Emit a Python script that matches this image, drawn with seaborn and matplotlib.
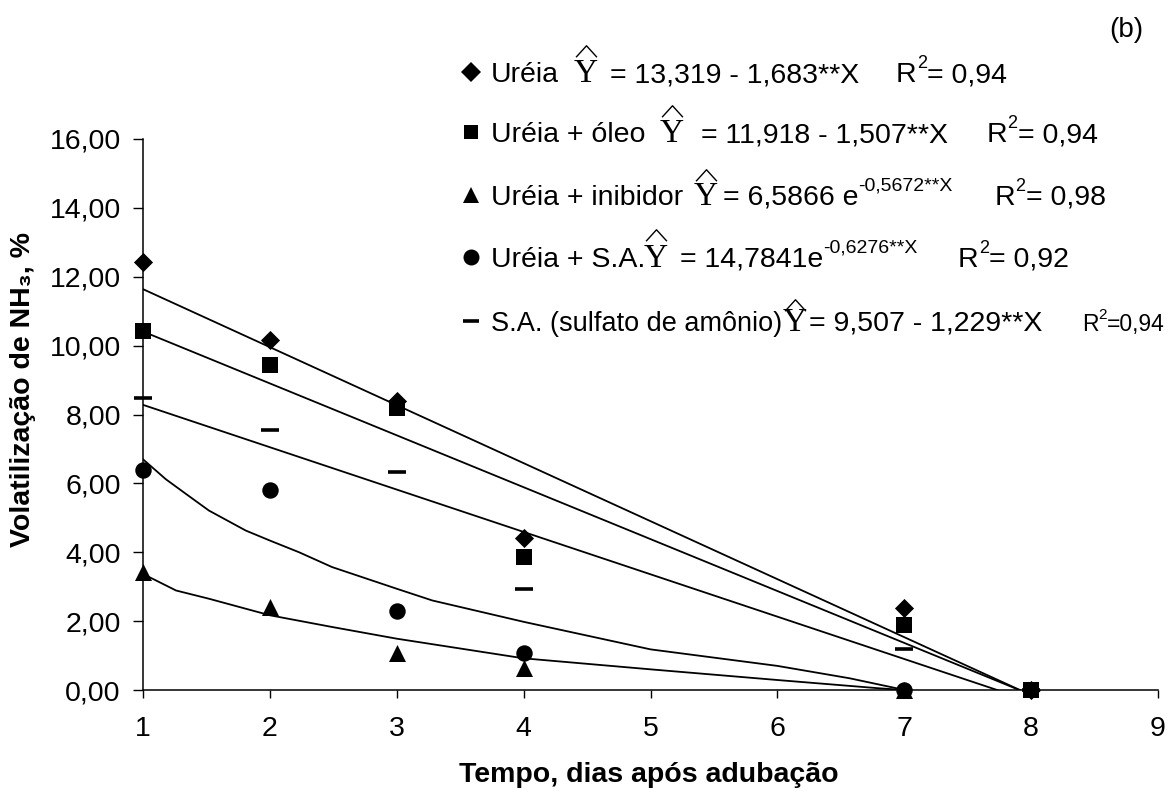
"""Volatilização de NH3 ao longo do tempo, por tipo de adubação (b)."""

import matplotlib.pyplot as plt
import seaborn as sns
from matplotlib.lines import Line2D
from matplotlib.path import Path
from matplotlib.ticker import FuncFormatter

# observed values (dias após adubação)
dias = [1, 2, 3, 4, 7, 8]
ureia = [12.42, 10.16, 8.39, 4.41, 2.37, 0.0]
ureia_oleo = [10.43, 9.43, 8.20, 3.86, 1.88, 0.0]
sulfato = [8.47, 7.54, 6.34, 2.92, 1.19, 0.0]
dias_b = [1, 2, 3, 4, 7]
ureia_inib = [3.42, 2.41, 1.06, 0.65, 0.0]
ureia_sa = [6.38, 5.81, 2.29, 1.08, 0.0]

# fitted lines as they appear on the chart
reta_x = [1, 8]
reta_ureia = [11.64, -0.15]
reta_oleo = [10.41, -0.14]
reta_sa = [8.28, -0.33]
curva_sa_x = [1, 1.18, 1.34, 1.52, 1.81, 2, 2.23, 2.49, 3, 3.28, 4, 5, 6, 6.57, 6.94, 7]
curva_sa_y = [6.70, 6.12, 5.69, 5.21, 4.63, 4.34, 4.00, 3.57, 2.94, 2.60, 1.98, 1.18, 0.70, 0.34, 0.05, 0.0]
curva_inib_x = [1, 1.26, 1.52, 1.76, 2, 2.49, 3, 4, 5, 6, 6.8, 7]
curva_inib_y = [3.37, 2.89, 2.65, 2.41, 2.17, 1.83, 1.49, 0.92, 0.60, 0.29, 0.05, 0.0]

# legend texts
nomes = ['Uréia', 'Uréia + óleo', 'Uréia + inibidor', 'Uréia + S.A.', 'S.A. (sulfato de amônio)']
equacoes = ['= 13,319 - 1,683**X', '= 11,918 - 1,507**X', '= 6,5866 e', '= 14,7841e', '= 9,507 - 1,229**X']
expoentes = ['', '', '-0,5672**X', '-0,6276**X', '']
r2 = ['= 0,94', '= 0,94', '= 0,98', '= 0,92', '=0,94']

sns.set_theme(style='ticks')
plt.rcParams['font.family'] = ['Liberation Sans', 'DejaVu Sans']

W, H = 1170, 792
fig = plt.figure(figsize=(W / 100, H / 100), dpi=100)
ax = fig.add_axes([143 / W, 1 - 690 / H, 1015 / W, 551 / H])


def fx(x):
    return x / W


def fy(y):
    return 1 - y / H


# trend lines
for xs, ys in [(reta_x, reta_ureia), (reta_x, reta_oleo), (reta_x, reta_sa),
               (curva_sa_x, curva_sa_y), (curva_inib_x, curva_inib_y)]:
    sns.lineplot(x=xs, y=ys, color='black', linewidth=1.3, estimator=None,
                 sort=False, ax=ax)

# observed points
kw = dict(color='black', linewidth=0, clip_on=False, zorder=5, ax=ax)
sns.scatterplot(x=dias, y=ureia, marker='D', s=95, **kw)
sns.scatterplot(x=dias, y=ureia_oleo, marker='s', s=120, **kw)
sns.scatterplot(x=dias_b, y=ureia_inib, marker='^', s=150, **kw)
sns.scatterplot(x=dias_b, y=ureia_sa, marker='o', s=140, **kw)
ax.scatter(dias, sulfato, marker='_', s=150, linewidths=2.6, color='black',
           clip_on=False, zorder=5)

ax.set_xlim(1, 9)
ax.set_ylim(0, 16)
ax.set_xticks(range(1, 10))
ax.set_yticks(range(0, 17, 2))
ax.yaxis.set_major_formatter(FuncFormatter(lambda v, p: f'{v:.2f}'.replace('.', ',')))
ax.tick_params(axis='y', direction='out', length=7, width=1, color='black',
               labelsize=20.5, pad=9, labelcolor='black')
ax.tick_params(axis='x', direction='out', length=6, width=1, color='black',
               labelsize=20.5, pad=13, labelcolor='black')
for side in ['top', 'right']:
    ax.spines[side].set_visible(False)
for side in ['left', 'bottom']:
    ax.spines[side].set_color('black')
    ax.spines[side].set_linewidth(1.1)

ax.set_xlabel('Tempo, dias após adubação', fontsize=20.5, fontweight='bold', color='black')
ax.xaxis.set_label_coords(0.4985, -0.13)
ax.set_ylabel('Volatilização de NH₃, %', fontsize=20.5, fontweight='bold',
              color='black', va='center')
ax.yaxis.set_label_coords(-0.118, 0.545)

fig.text(fx(1126), fy(30), '(b)', fontsize=20, ha='center', va='center', color='black')

# legend drawn as text rows
bases = [82, 142, 205, 267, 331]
marcadores = [('D', 10), ('s', 10.5), ('^', 11.5), ('o', 11.5), ('_', 12)]
x_yhat = [586, 672, 706, 656, 795]
x_eq = [610, 701, 723, 680, 809]
x_r2 = [896, 987, 995, 958, 1082]
hat_off = [31, 31, 30, 32, 26]
tam_nome = [20.5, 20.5, 20.5, 20.5, 19.5]
chapeu = Path([(-1.0, -0.55), (0.0, 0.55), (1.0, -0.55)],
              [Path.MOVETO, Path.LINETO, Path.LINETO])

for i, base in enumerate(bases):
    m, ms = marcadores[i]
    fig.add_artist(Line2D([fx(471)], [fy(base - 10)], marker=m, markersize=ms,
                          markeredgewidth=2.6 if m == '_' else 0,
                          color='black', transform=fig.transFigure))
    fig.text(fx(491), fy(base), nomes[i], fontsize=tam_nome[i],
             ha='left', va='baseline', color='black')
    fig.text(fx(x_yhat[i]), fy(base), 'Y', fontsize=24, family=['Liberation Serif'],
             ha='center', va='baseline', color='black')
    # hat over the Y
    fig.add_artist(Line2D([fx(x_yhat[i])], [fy(base - hat_off[i])], marker=chapeu,
                          markersize=15, markeredgewidth=1.0,
                          markerfacecolor='none', markeredgecolor='black',
                          linestyle='none', transform=fig.transFigure))
    eq = fig.text(fx(x_eq[i]), fy(base), equacoes[i], fontsize=20.5,
                  ha='left', va='baseline', color='black')
    if expoentes[i]:
        ax.annotate(expoentes[i], xy=(1, 0.62), xycoords=eq, fontsize=14,
                    ha='left', va='bottom', color='black', annotation_clip=False)
    small = i == 4
    rr = fig.text(fx(x_r2[i]), fy(base), 'R', fontsize=16.5 if small else 20.5,
                  ha='left', va='baseline', color='black')
    sup = ax.annotate('2', xy=(1, 0.6), xycoords=rr, fontsize=11 if small else 13,
                      ha='left', va='bottom', color='black', annotation_clip=False)
    ax.annotate(r2[i], xy=(1, 0), xycoords=(sup, rr), fontsize=16.5 if small else 20.5,
                ha='left', va='bottom', color='black', annotation_clip=False)

fig.savefig('out.png', dpi=100)
plt.close(fig)
